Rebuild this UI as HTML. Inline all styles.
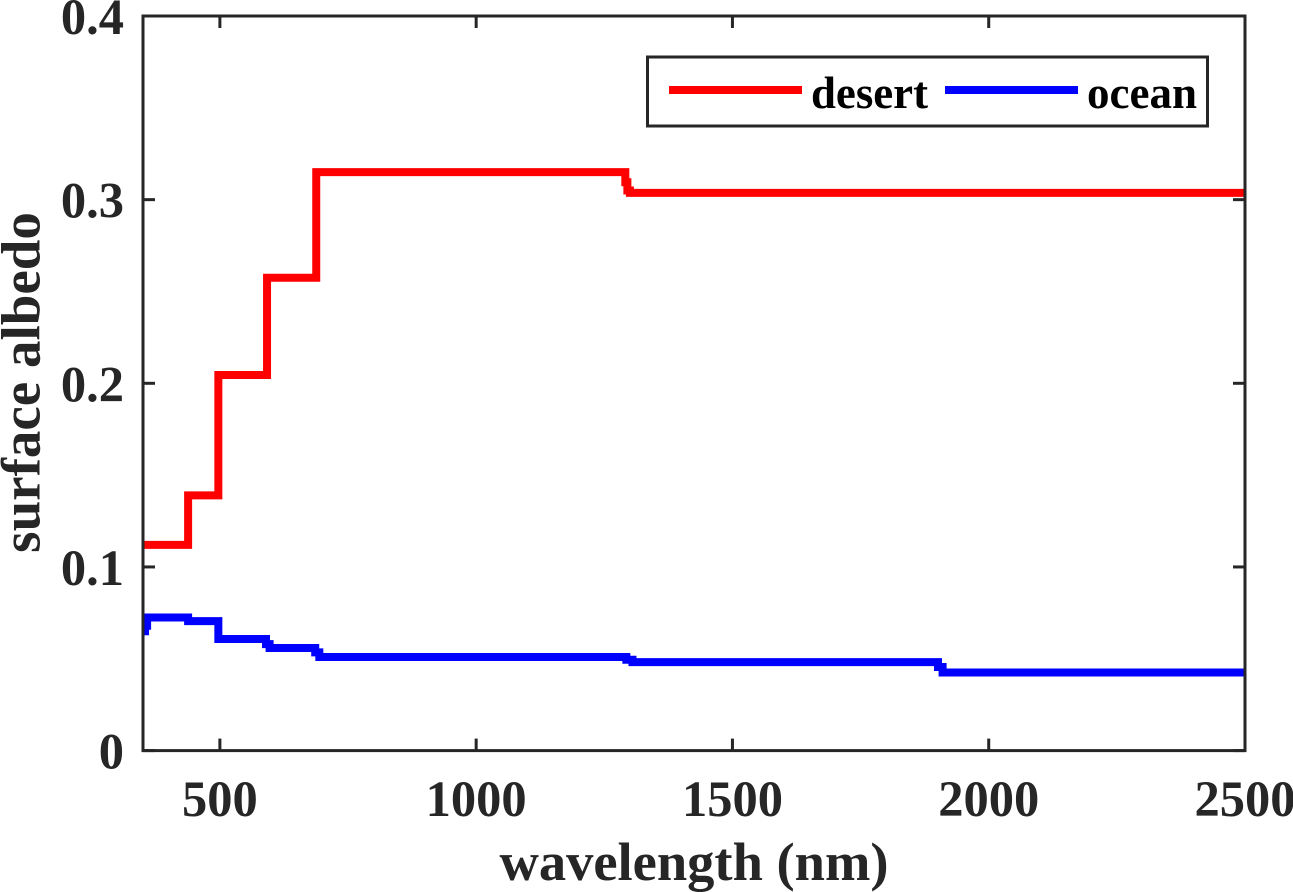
<!DOCTYPE html>
<html lang="en">
<head>
<meta charset="utf-8">
<title>Surface albedo by wavelength</title>
<style>
html,body{margin:0;padding:0;background:#fff;}
svg{display:block;}
text{font-family:"Liberation Serif",serif;font-weight:bold;}
</style>
</head>
<body>
<svg id="chart" xmlns="http://www.w3.org/2000/svg" width="1293" height="892" viewBox="0 0 1293 892">
  <defs><clipPath id="plot-clip"><rect x="143" y="16" width="1102" height="735"/></clipPath></defs>
  <g id="series" clip-path="url(#plot-clip)"></g>
  <g id="axes"></g>
  <text x="694" y="880" font-size="54.5" fill="#262626" text-anchor="middle">wavelength (nm)</text>
  <text transform="translate(39.5,382.5) rotate(-90)" font-size="55" fill="#262626" text-anchor="middle">surface albedo</text>
  <g>
    <rect x="647.5" y="57" width="560" height="69" fill="#fff" stroke="#262626" stroke-width="3"/>
    <line x1="669" x2="802" y1="90" y2="90" stroke="#ff0000" stroke-width="8"/>
    <text x="811" y="108" font-size="46" fill="#000" textLength="117" lengthAdjust="spacingAndGlyphs">desert</text>
    <line x1="945" x2="1078" y1="90" y2="90" stroke="#0000ff" stroke-width="8"/>
    <text x="1087" y="108" font-size="46" fill="#000" textLength="110" lengthAdjust="spacingAndGlyphs">ocean</text>
  </g>
</svg>
<script>
const xTicks = [500, 1000, 1500, 2000, 2500];
const xTickLabels = ["500", "1000", "1500", "2000", "2500"];
const yTicks = [0, 0.1, 0.2, 0.3, 0.4];
const yTickLabels = ["0", "0.1", "0.2", "0.3", "0.4"];
const desertWavelengths = [350, 438, 497, 592, 688, 1291, 1295, 1300, 2500];
const desertAlbedo = [0.112, 0.139, 0.2045, 0.2575, 0.315, 0.3095, 0.305, 0.3037, 0.3037];
const oceanWavelengths = [350, 354, 358, 438, 497, 590, 597, 686, 694, 1293, 1305, 1901, 1910, 2500];
const oceanAlbedo = [0.065, 0.068, 0.0725, 0.0705, 0.0608, 0.058, 0.0559, 0.0535, 0.051, 0.0495, 0.0482, 0.0455, 0.0425, 0.0425];

const X0 = 143, X1 = 1245, Y0 = 750.6, Y1 = 16;
const xMin = 350, xMax = 2500, yMin = 0, yMax = 0.4;
const NS = 'http://www.w3.org/2000/svg';
const INK = '#262626';

function xScale(v) { return X0 + (v - xMin) / (xMax - xMin) * (X1 - X0); }
function yScale(v) { return Y0 - (v - yMin) / (yMax - yMin) * (Y0 - Y1); }

function stepPath(wave, vals) {
  let d = 'M' + xScale(wave[0]).toFixed(2) + ' ' + yScale(vals[0]).toFixed(2);
  for (let i = 1; i < wave.length; i++) {
    d += 'L' + xScale(wave[i]).toFixed(2) + ' ' + yScale(vals[i - 1]).toFixed(2);
    d += 'L' + xScale(wave[i]).toFixed(2) + ' ' + yScale(vals[i]).toFixed(2);
  }
  return d;
}

const seriesGroup = document.getElementById('series');
const axesGroup = document.getElementById('axes');

const desertLine = document.createElementNS(NS, 'path');
desertLine.setAttribute('d', stepPath(desertWavelengths, desertAlbedo));
desertLine.setAttribute('fill', 'none');
desertLine.setAttribute('stroke', '#ff0000');
desertLine.setAttribute('stroke-width', '8');
desertLine.setAttribute('stroke-linejoin', 'miter');


seriesGroup.appendChild(desertLine);

const oceanLine = document.createElementNS(NS, 'path');
oceanLine.setAttribute('d', stepPath(oceanWavelengths, oceanAlbedo));
oceanLine.setAttribute('fill', 'none');
oceanLine.setAttribute('stroke', '#0000ff');
oceanLine.setAttribute('stroke-width', '8');
oceanLine.setAttribute('stroke-linejoin', 'miter');


seriesGroup.appendChild(oceanLine);

const frame = document.createElementNS(NS, 'rect');
frame.setAttribute('x', X0);
frame.setAttribute('y', Y1);
frame.setAttribute('width', X1 - X0);
frame.setAttribute('height', Y0 - Y1);
frame.setAttribute('fill', 'none');
frame.setAttribute('stroke', INK);
frame.setAttribute('stroke-width', '3');


axesGroup.appendChild(frame);

function addTick(x1, y1, x2, y2, name) {
  const t = document.createElementNS(NS, 'line');
  t.setAttribute('x1', x1);
  t.setAttribute('y1', y1);
  t.setAttribute('x2', x2);
  t.setAttribute('y2', y2);
  t.setAttribute('stroke', INK);
  t.setAttribute('stroke-width', '3');
  
  
  axesGroup.appendChild(t);
}

function addLabel(x, y, anchor, str, name) {
  const t = document.createElementNS(NS, 'text');
  t.setAttribute('x', x);
  t.setAttribute('y', y);
  t.setAttribute('text-anchor', anchor);
  t.setAttribute('font-size', '50.5');
  t.setAttribute('fill', INK);
  
  
  t.textContent = str;
  axesGroup.appendChild(t);
}

xTicks.forEach(function (v, i) {
  const x = xScale(v);
  addTick(x, Y0, x, Y0 - 12, 'x-tick');
  addTick(x, Y1, x, Y1 + 12, 'x-tick-top');
  addLabel(x, 816, 'middle', xTickLabels[i], 'x-tick-label');
});
yTicks.forEach(function (v, i) {
  const y = yScale(v);
  addTick(X0, y, X0 + 12, y, 'y-tick');
  addTick(X1, y, X1 - 12, y, 'y-tick-right');
  addLabel(124, y + 18, 'end', yTickLabels[i], 'y-tick-label');
});
</script>
</body>
</html>
